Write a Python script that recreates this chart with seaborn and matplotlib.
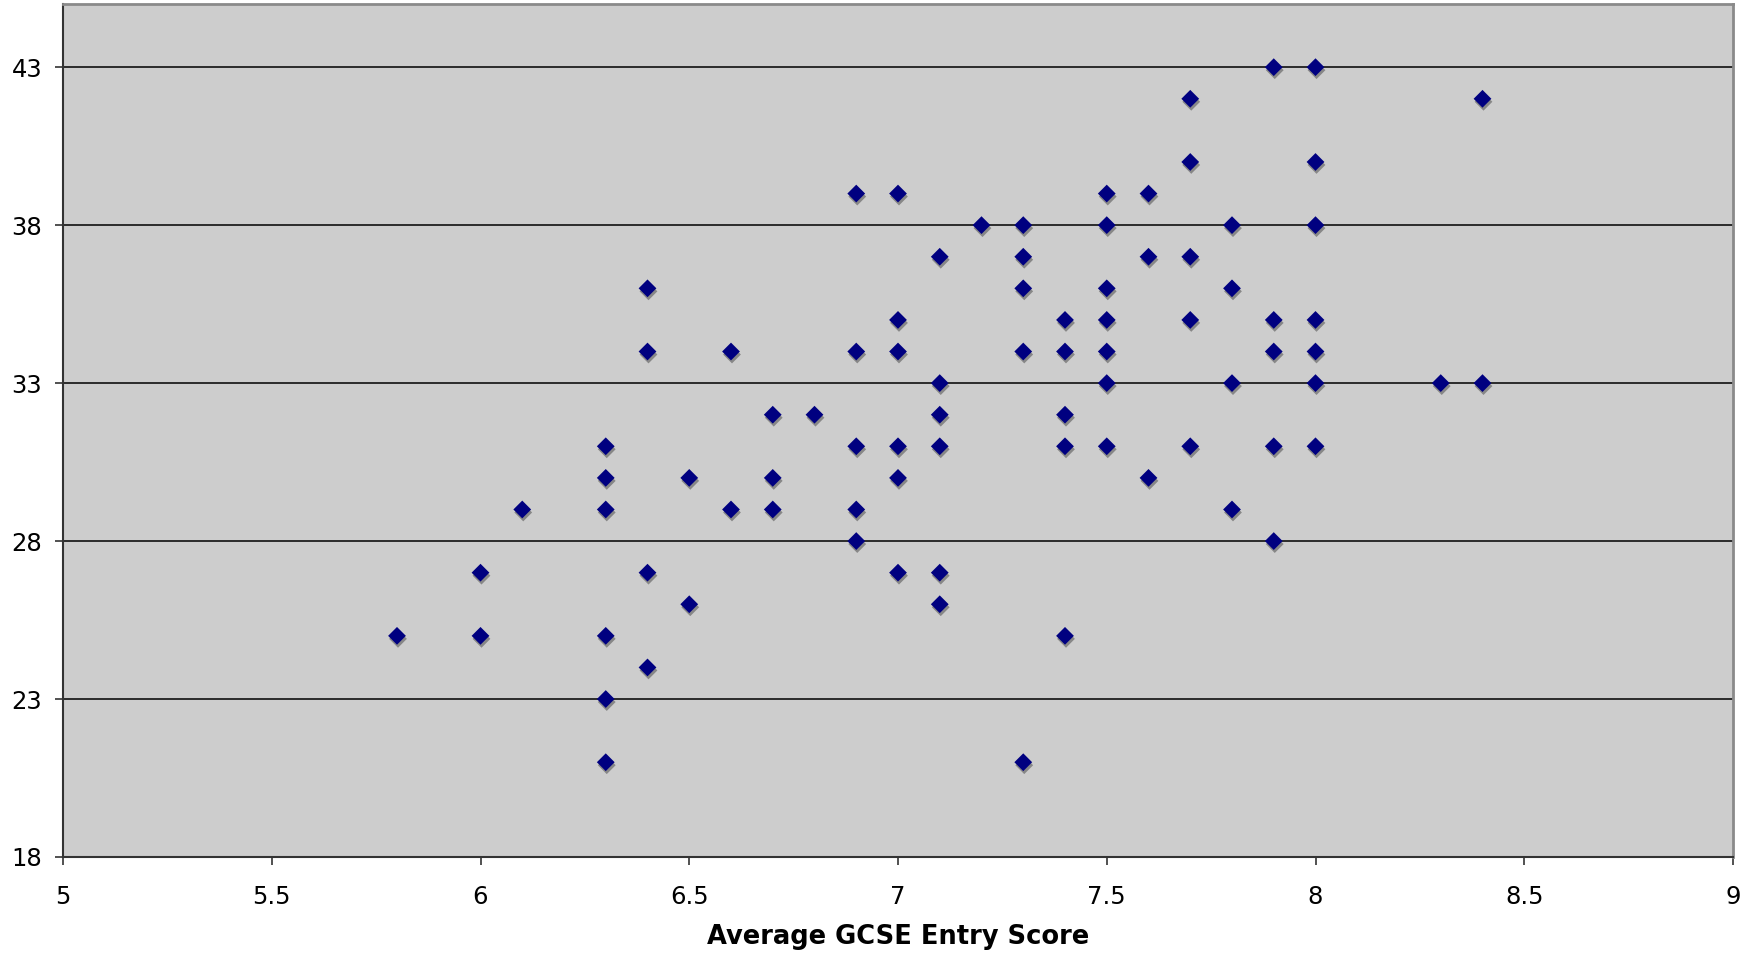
import matplotlib
matplotlib.use("Agg")
import matplotlib.pyplot as plt
import matplotlib.transforms as mtransforms
import seaborn as sns
import pandas as pd

# Data
gcse_score = [
    5.8,
    6.0, 6.0,
    6.1,
    6.3, 6.3, 6.3, 6.3, 6.3, 6.3,
    6.4, 6.4, 6.4, 6.4,
    6.5, 6.5,
    6.6, 6.6,
    6.7, 6.7, 6.7,
    6.8,
    6.9, 6.9, 6.9, 6.9, 6.9,
    7.0, 7.0, 7.0, 7.0, 7.0, 7.0,
    7.1, 7.1, 7.1, 7.1, 7.1, 7.1,
    7.2,
    7.3, 7.3, 7.3, 7.3, 7.3,
    7.4, 7.4, 7.4, 7.4, 7.4,
    7.5, 7.5, 7.5, 7.5, 7.5, 7.5, 7.5,
    7.6, 7.6, 7.6,
    7.7, 7.7, 7.7, 7.7, 7.7,
    7.8, 7.8, 7.8, 7.8,
    7.9, 7.9, 7.9, 7.9, 7.9,
    8.0, 8.0, 8.0, 8.0, 8.0, 8.0, 8.0,
    8.3,
    8.4, 8.4,
]
outcome = [
    25,
    27, 25,
    29,
    31, 30, 29, 25, 23, 21,
    36, 34, 27, 24,
    30, 26,
    34, 29,
    32, 30, 29,
    32,
    39, 34, 31, 29, 28,
    39, 35, 34, 31, 30, 27,
    37, 33, 32, 31, 27, 26,
    38,
    38, 37, 36, 34, 21,
    35, 34, 32, 31, 25,
    39, 38, 36, 35, 34, 33, 31,
    39, 37, 30,
    42, 40, 37, 35, 31,
    38, 36, 33, 29,
    43, 35, 34, 31, 28,
    43, 40, 38, 35, 34, 33, 31,
    33,
    42, 33,
]
x_ticks = [5, 5.5, 6, 6.5, 7, 7.5, 8, 8.5, 9]
x_tick_labels = ["5", "5.5", "6", "6.5", "7", "7.5", "8", "8.5", "9"]
y_ticks = [18, 23, 28, 33, 38, 43]
x_label = "Average GCSE Entry Score"

df = pd.DataFrame({"gcse": gcse_score, "score": outcome})

sns.set_style("white")
plt.rcParams["font.family"] = ["DejaVu Sans"]

fig = plt.figure(figsize=(17.62, 9.59), dpi=100)
ax = fig.add_axes([63 / 1762, 102 / 959, 1670 / 1762, 853 / 959])
ax.set_facecolor("#cdcdcd")

# grey drop shadow, shifted slightly right and down
shadow = ax.transData + mtransforms.ScaledTranslation(1 / 100, -3 / 100, fig.dpi_scale_trans)
sns.scatterplot(data=df, x="gcse", y="score", ax=ax, marker="D", s=82,
                color="#878787", edgecolor="none", linewidth=0, transform=shadow, zorder=3)
sns.scatterplot(data=df, x="gcse", y="score", ax=ax, marker="D", s=82,
                color="#000080", edgecolor="none", linewidth=0, zorder=4)

ax.set_xlim(5, 9)
ax.set_ylim(18, 45)
ax.set_xticks(x_ticks)
ax.set_xticklabels(x_tick_labels)
ax.set_yticks(y_ticks)
ax.yaxis.grid(True, color="black", linewidth=1.1)
ax.xaxis.grid(False)
ax.set_axisbelow(True)

ax.tick_params(axis="both", direction="out", length=6, width=1.2, color="#333333",
               labelsize=17.5, labelcolor="black")
ax.tick_params(axis="x", pad=14)
ax.tick_params(axis="y", pad=9)
ax.tick_params(left=True, bottom=True)

for side in ["left", "bottom"]:
    ax.spines[side].set_color("#333333")
    ax.spines[side].set_linewidth(1.5)
for side in ["top", "right"]:
    ax.spines[side].set_color("#8a8a8a")
    ax.spines[side].set_linewidth(2)

ax.set_xlabel(x_label, fontsize=18.5, fontweight="bold", labelpad=11, color="black")
ax.set_ylabel("")

fig.savefig("out.png", dpi=100)
